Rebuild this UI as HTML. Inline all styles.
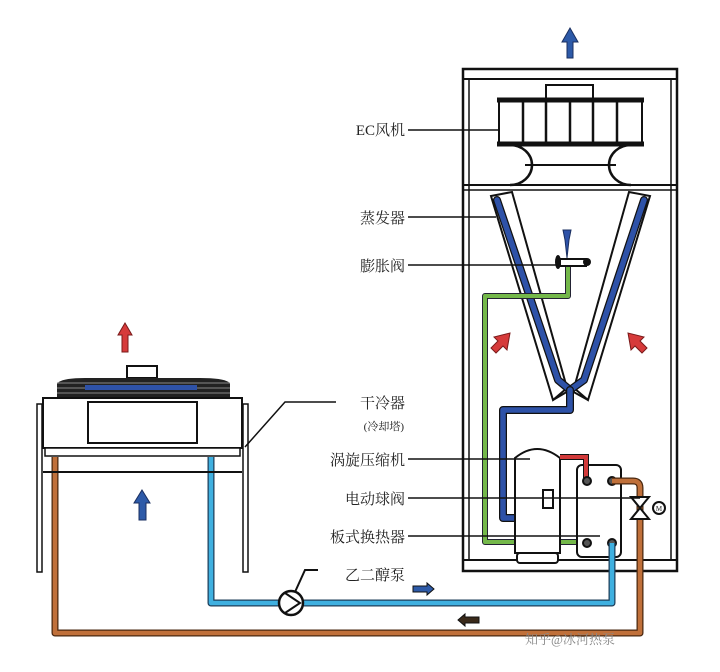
<!DOCTYPE html>
<html><head><meta charset="utf-8"><style>
html,body{margin:0;padding:0;background:#fff;width:720px;height:672px;overflow:hidden}
text{font-family:"Liberation Serif","Noto Serif CJK SC","Noto Sans CJK SC",serif;font-size:15px;fill:#222}
</style></head><body>
<svg width="720" height="672" viewBox="0 0 720 672" xmlns="http://www.w3.org/2000/svg">
<!-- cabinet -->
<rect x="463" y="69" width="214" height="502" fill="#fff" stroke="#111" stroke-width="2.5"/>
<line x1="463" y1="79" x2="677" y2="79" stroke="#111" stroke-width="2"/>
<line x1="469" y1="79" x2="469" y2="560" stroke="#111" stroke-width="1.5"/>
<line x1="671" y1="79" x2="671" y2="560" stroke="#111" stroke-width="1.5"/>
<line x1="463" y1="560" x2="677" y2="560" stroke="#111" stroke-width="2"/>
<line x1="463" y1="185" x2="677" y2="185" stroke="#111" stroke-width="2"/>
<line x1="463" y1="190" x2="677" y2="190" stroke="#111" stroke-width="1.5"/>
<!-- top arrow -->
<path d="M570 28 L578 42 L573 42 L573 58 L567 58 L567 42 L562 42 Z" fill="#2d5aa8" stroke="#1a2f60" stroke-width="1"/>
<!-- fan -->
<rect x="546" y="85" width="47" height="15" fill="#fff" stroke="#111" stroke-width="2"/>
<rect x="499" y="100" width="143" height="44" fill="#fff" stroke="#111" stroke-width="2"/>
<line x1="497" y1="100" x2="644" y2="100" stroke="#111" stroke-width="5"/>
<line x1="497" y1="144" x2="644" y2="144" stroke="#111" stroke-width="5"/>
<g stroke="#111" stroke-width="2.5"><line x1="523" y1="100" x2="523" y2="144"/><line x1="546" y1="100" x2="546" y2="144"/><line x1="570" y1="100" x2="570" y2="144"/><line x1="593" y1="100" x2="593" y2="144"/><line x1="617" y1="100" x2="617" y2="144"/></g>
<path d="M510 145 A22 20 0 0 1 510 185" fill="none" stroke="#111" stroke-width="2.5"/>
<path d="M631 145 A22 20 0 0 0 631 185" fill="none" stroke="#111" stroke-width="2.5"/>
<line x1="525" y1="165" x2="616" y2="165" stroke="#111" stroke-width="2"/>
<!-- evaporator V -->
<path d="M491 196 L512 192 L567 388 L553 400 Z" fill="#fff" stroke="#111" stroke-width="2"/>
<path d="M629 192 L650 196 L588 400 L574 388 Z" fill="#fff" stroke="#111" stroke-width="2"/>
<path d="M553 400 L570 390 L588 400" fill="none" stroke="#111" stroke-width="2"/>
<g fill="none" stroke-linecap="round" stroke-linejoin="round">
<path d="M497 200 L558 380 L570 390 L584 380 L644 200" stroke="#111" stroke-width="8"/>
<path d="M497 200 L558 380 L570 390 L584 380 L644 200" stroke="#2e52a8" stroke-width="5.5"/>
<path d="M570 390 L570 410 L503 410 L503 518 L538 518" stroke="#111" stroke-width="8"/>
<path d="M570 390 L570 410 L503 410 L503 518 L538 518" stroke="#2e52a8" stroke-width="5.5"/>
<path d="M568 266 L568 296 L485 296 L485 542 L586 542" stroke="#223" stroke-width="6"/>
<path d="M568 266 L568 296 L485 296 L485 542 L586 542" stroke="#74b84a" stroke-width="4"/>
</g>
<!-- expansion valve -->
<path d="M563 230 L571 230 L569 240 L567 258 L565 240 Z" fill="#2e52a8" stroke="#1a2f60" stroke-width="1"/>
<rect x="560" y="259" width="26" height="7" fill="#fff" stroke="#111" stroke-width="2"/>
<ellipse cx="558" cy="262" rx="3" ry="7" fill="#111"/>
<circle cx="587" cy="262" r="4" fill="#111"/>
<!-- red arrows -->
<path d="M510 333 L507 350 L503 346 L496 353 L491 348 L498 341 L494 337 Z" fill="#d63a3a" stroke="#7a1a1a" stroke-width="1"/>
<path d="M628 333 L631 350 L635 346 L642 353 L647 348 L640 341 L644 337 Z" fill="#d63a3a" stroke="#7a1a1a" stroke-width="1"/>
<!-- compressor -->
<path d="M515 553 L515 458 Q537 440 560 458 L560 553 Z" fill="#fff" stroke="#111" stroke-width="2"/>
<rect x="517" y="553" width="41" height="10" rx="3" fill="#fff" stroke="#111" stroke-width="2"/>
<rect x="543" y="490" width="10" height="18" fill="#fff" stroke="#111" stroke-width="2"/>
<!-- heat exchanger -->
<rect x="577" y="465" width="44" height="92" rx="5" fill="#fff" stroke="#111" stroke-width="2"/>
<path d="M560 457 L586 457 L586 478" fill="none" stroke="#111" stroke-width="6"/>
<path d="M560 457 L586 457 L586 478" fill="none" stroke="#d23a3a" stroke-width="4"/>
<g fill="#555" stroke="#111" stroke-width="2"><circle cx="587" cy="481" r="4"/><circle cx="612" cy="481" r="4"/><circle cx="587" cy="543" r="4"/><circle cx="612" cy="543" r="4"/></g>
<!-- glycol pipes -->
<g fill="none" stroke-linejoin="round">
<path d="M211 457 L211 603 L612 603 L612 543" stroke="#1f3f5a" stroke-width="7"/>
<path d="M211 457 L211 603 L612 603 L612 543" stroke="#3fb0e0" stroke-width="4.5"/>
<path d="M55 457 L55 633 L640 633 L640 488 Q640 481 633 481 L612 481" stroke="#4a2810" stroke-width="7"/>
<path d="M55 457 L55 633 L640 633 L640 488 Q640 481 633 481 L612 481" stroke="#c0703a" stroke-width="4.5"/>
</g>
<!-- ball valve -->
<path d="M631 497 L649 497 L640 508 Z M631 519 L649 519 L640 508 Z" fill="#fff" stroke="#111" stroke-width="2"/>
<circle cx="659" cy="508" r="6" fill="#fff" stroke="#111" stroke-width="2"/>
<text x="659" y="511" text-anchor="middle" style="font-size:7px">M</text>
<!-- pump -->
<circle cx="291" cy="603" r="12" fill="#fff" stroke="#111" stroke-width="2.5"/>
<path d="M285 593 L300 603 L285 613" fill="none" stroke="#111" stroke-width="2"/>
<path d="M295 592 L305 570 L318 570" fill="none" stroke="#111" stroke-width="2"/>
<!-- flow arrows -->
<path d="M413 586 L427 586 L427 583 L434 589 L427 595 L427 592 L413 592 Z" fill="#2d5aa8" stroke="#111" stroke-width="1"/>
<path d="M479 617 L465 617 L465 614 L458 620 L465 626 L465 623 L479 623 Z" fill="#3a2a1a" stroke="#111" stroke-width="1"/>
<!-- dry cooler -->
<path d="M125 323 L132 335 L128 335 L128 352 L122 352 L122 335 L118 335 Z" fill="#d63a3a" stroke="#7a1a1a" stroke-width="1"/>
<rect x="127" y="366" width="30" height="12" fill="#fff" stroke="#111" stroke-width="2"/>
<path d="M57 398 L57 384 Q60 378 85 378 L200 378 Q228 378 230 384 L230 398 Z" fill="#222"/>
<g stroke="#888" stroke-width="1"><line x1="57" y1="383" x2="230" y2="383"/><line x1="57" y1="388" x2="230" y2="388"/><line x1="57" y1="393" x2="230" y2="393"/></g>
<rect x="85" y="385" width="112" height="5" fill="#2e52a8"/>
<rect x="43" y="398" width="199" height="50" fill="#fff" stroke="#111" stroke-width="2"/>
<rect x="88" y="402" width="109" height="41" fill="#fff" stroke="#111" stroke-width="2"/>
<rect x="45" y="448" width="195" height="8" fill="#fff" stroke="#111" stroke-width="1.5"/>
<line x1="43" y1="472" x2="242" y2="472" stroke="#111" stroke-width="2"/>
<g fill="#fff" stroke="#111" stroke-width="1.5">
<rect x="37" y="404" width="5" height="168"/><rect x="243" y="404" width="5" height="168"/>
</g>
<path d="M142 490 L150 503 L146 503 L146 520 L139 520 L139 503 L134 503 Z" fill="#2d5aa8" stroke="#1a2f60" stroke-width="1"/>
<path d="M336 402 L285 402 L245 447" fill="none" stroke="#111" stroke-width="1.5"/>
<!-- labels -->
<g stroke="#111" stroke-width="1.5">
<line x1="408" y1="130" x2="499" y2="130"/>
<line x1="408" y1="217" x2="496" y2="217"/>
<line x1="408" y1="265" x2="556" y2="265"/>
<line x1="408" y1="459" x2="530" y2="459"/>
<line x1="408" y1="498" x2="640" y2="498"/>
<line x1="408" y1="536" x2="600" y2="536"/>
</g>
<g text-anchor="end">
<text x="405" y="135">EC风机</text>
<text x="405" y="223">蒸发器</text>
<text x="405" y="271">膨胀阀</text>
<text x="405" y="408">干冷器</text>
<text x="404" y="430" style="font-size:11px">(冷却塔)</text>
<text x="405" y="465">涡旋压缩机</text>
<text x="405" y="504">电动球阀</text>
<text x="405" y="542">板式换热器</text>
<text x="405" y="580">乙二醇泵</text>
</g>
<text x="525" y="644" style="font-size:13px;fill:#888">知乎@冰河热泵</text>
</svg>
</body></html>
